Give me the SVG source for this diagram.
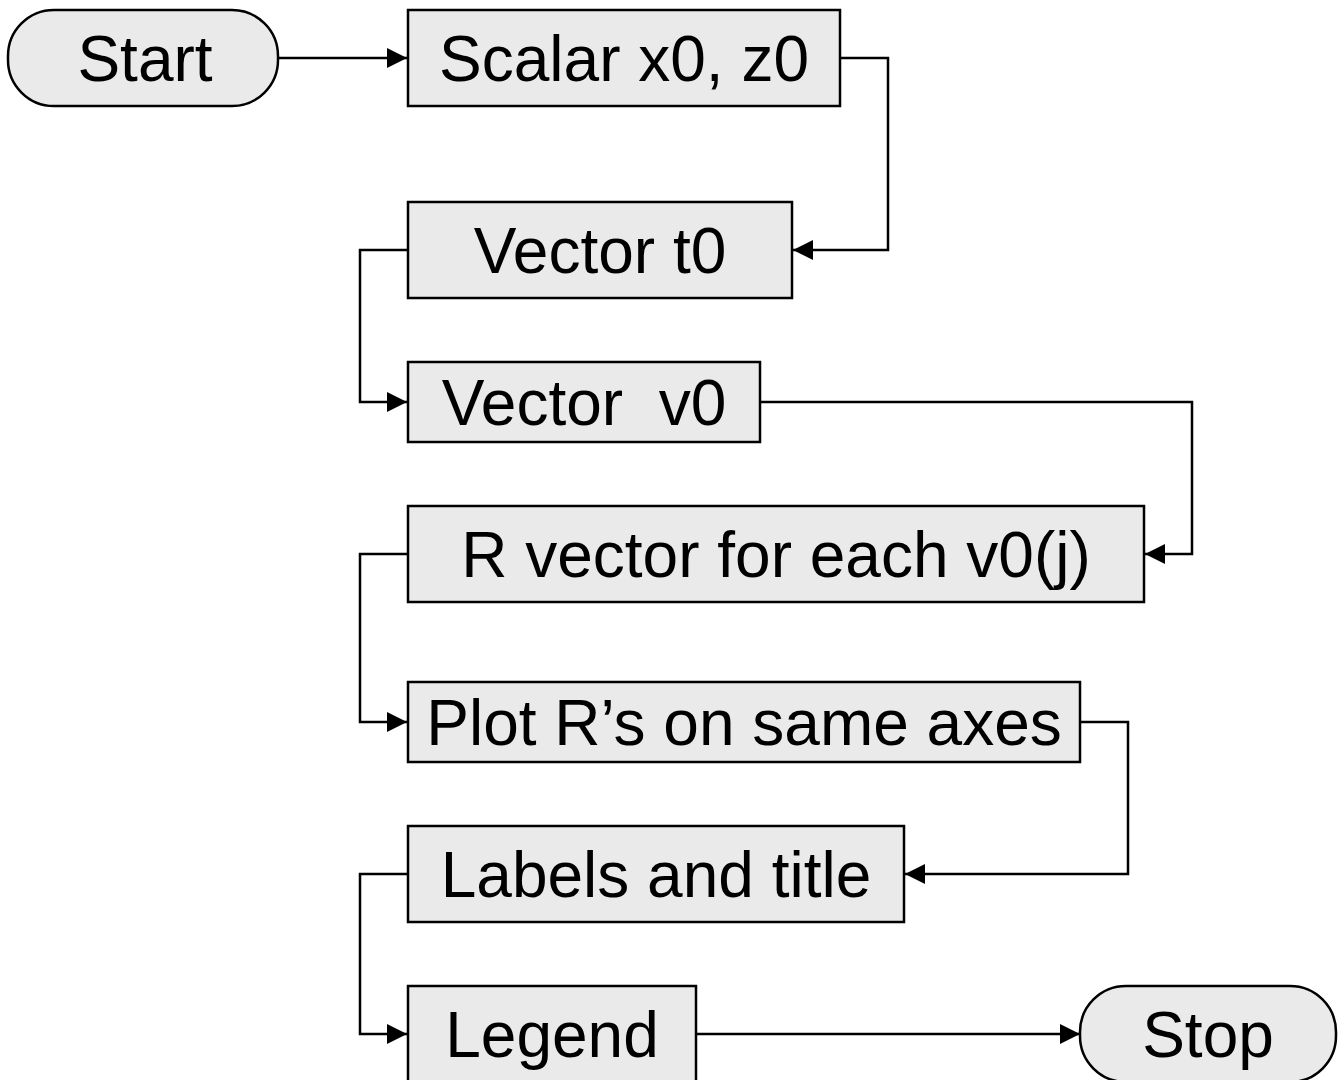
<svg xmlns="http://www.w3.org/2000/svg" width="1340" height="1080" viewBox="0 0 1340 1080">
<defs>
<style>
.box{fill:#eaeaea;stroke:#000;stroke-width:2.5}
.lbl{font-family:"Liberation Sans",Arial,sans-serif;font-size:64px;fill:#000;text-anchor:middle}
.conn{fill:none;stroke:#000;stroke-width:2.5}
</style>
<marker id="arr" markerWidth="20" markerHeight="20" refX="20" refY="10" orient="auto" markerUnits="userSpaceOnUse">
<path d="M0,0 L20,10 L0,20 Z" fill="#000"/>
</marker>
</defs>
<rect width="1340" height="1080" fill="#fff"/>
<g id="connectors">
<path class="conn" d="M278,58 H407" marker-end="url(#arr)"/>
<path class="conn" d="M840,58 H888 V250 H793" marker-end="url(#arr)"/>
<path class="conn" d="M408,250 H360 V402 H407" marker-end="url(#arr)"/>
<path class="conn" d="M760,402 H1192 V554 H1145" marker-end="url(#arr)"/>
<path class="conn" d="M408,554 H360 V722 H407" marker-end="url(#arr)"/>
<path class="conn" d="M1080,722 H1128 V874 H905" marker-end="url(#arr)"/>
<path class="conn" d="M408,874 H360 V1034 H407" marker-end="url(#arr)"/>
<path class="conn" d="M696,1034 H1080" marker-end="url(#arr)"/>
</g>
<g id="start">
<rect class="box" x="8" y="10" width="270" height="96" rx="46" ry="46"/>
<text class="lbl" x="145" y="81">Start</text>
</g>
<g id="scalar">
<rect class="box" x="408" y="10" width="432" height="96"/>
<text class="lbl" x="624" y="81">Scalar x0, z0</text>
</g>
<g id="vector_t0">
<rect class="box" x="408" y="202" width="384" height="96"/>
<text class="lbl" x="600" y="273">Vector t0</text>
</g>
<g id="vector_v0">
<rect class="box" x="408" y="362" width="352" height="80"/>
<text class="lbl" x="584" y="425" xml:space="preserve">Vector  v0</text>
</g>
<g id="r_vector">
<rect class="box" x="408" y="506" width="736" height="96"/>
<text class="lbl" x="776" y="577">R vector for each v0(j)</text>
</g>
<g id="plot">
<rect class="box" x="408" y="682" width="672" height="80"/>
<text class="lbl" x="744" y="745">Plot R’s on same axes</text>
</g>
<g id="labels">
<rect class="box" x="408" y="826" width="496" height="96"/>
<text class="lbl" x="656" y="897">Labels and title</text>
</g>
<g id="legend">
<rect class="box" x="408" y="986" width="288" height="100"/>
<text class="lbl" x="552" y="1057">Legend</text>
</g>
<g id="stop">
<rect class="box" x="1080" y="986" width="256" height="96" rx="46" ry="46"/>
<text class="lbl" x="1208" y="1057">Stop</text>
</g>
</svg>
